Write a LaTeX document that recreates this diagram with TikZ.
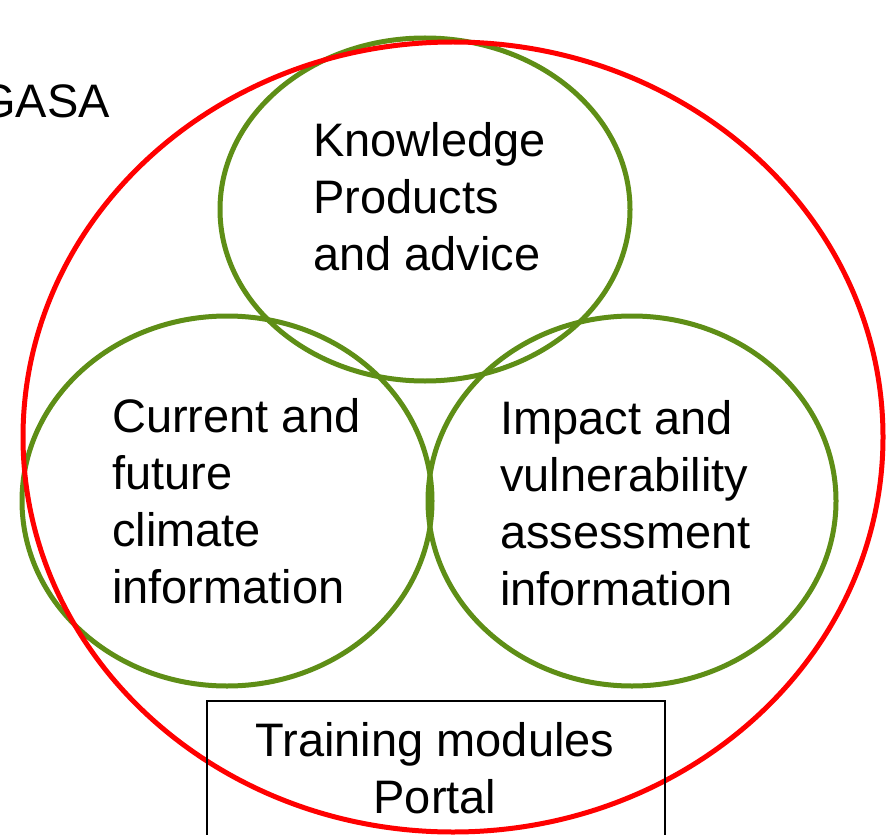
\documentclass[tikz,border=0pt]{standalone}
\usepackage{fontspec}
\setmainfont{Liberation Sans}
\usetikzlibrary{shapes.geometric}
\definecolor{venngreen}{RGB}{94,142,22}
\definecolor{vennred}{RGB}{255,0,0}

\begin{document}
\begin{tikzpicture}[x=1pt, y=-1pt,
    area/.style={ellipse, draw=venngreen, line width=5pt, inner sep=0pt},
    areatext/.style={anchor=base west, align=left, inner sep=0pt, font=\fontsize{47}{57}\selectfont}]
    \useasboundingbox (0,0) rectangle (890,834);
    \node[area, minimum width=410pt, minimum height=343pt] (know) at (425,209.5) {};
    \node[area, minimum width=410pt, minimum height=370pt] (clim) at (227,501) {};
    \node[area, minimum width=408pt, minimum height=370pt] (impact) at (632,501) {};
    \node[ellipse, draw=vennred, line width=5pt, inner sep=0pt, minimum width=860pt, minimum height=790pt] (gasa) at (453,437) {};
    \node[draw, line width=1.8pt, anchor=north west, minimum width=458pt, minimum height=160pt, inner sep=0pt] (portal) at (206,700) {};
    \node[areatext] (knowtext) at (313,270) {Knowledge\\Products\\and advice};
    \node[areatext] (climtext) at (112,603) {Current and\\future\\climate\\information};
    \node[areatext] (impacttext) at (500,605) {Impact and\\vulnerability\\assessment\\information};
    \node[areatext, anchor=base east] (gasatext) at (110,118) {GASA};
    \node[areatext, anchor=base, align=center] (portaltext) at (435,813) {Training modules\\Portal};
\end{tikzpicture}
\end{document}
